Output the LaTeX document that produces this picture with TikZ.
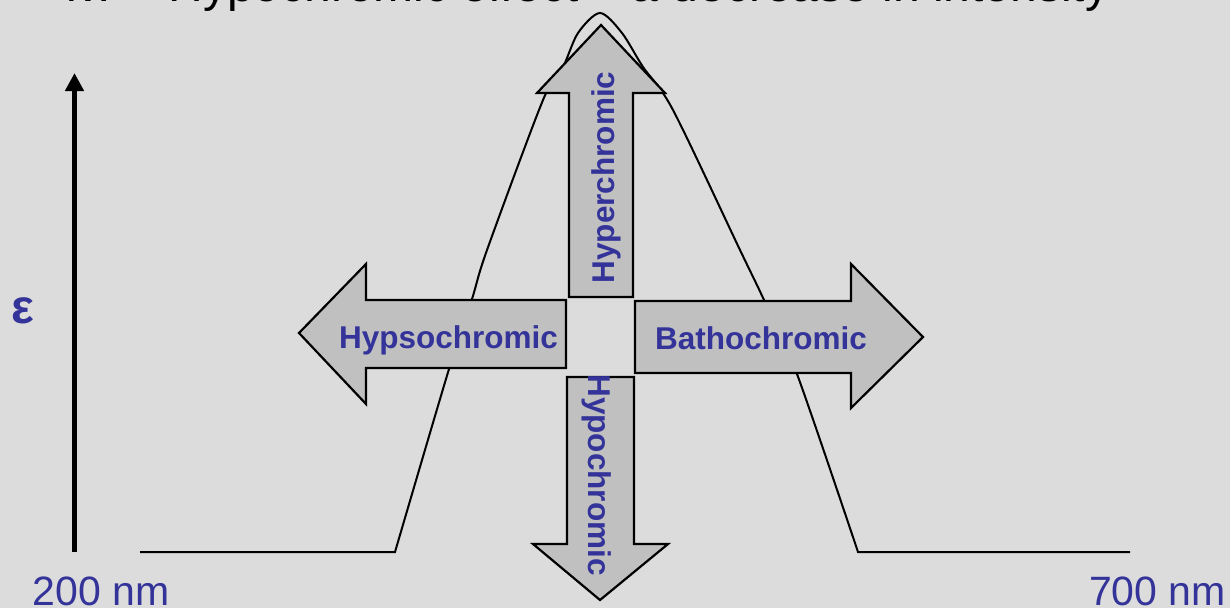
\documentclass[tikz,border=0pt]{standalone}
\usepackage{fontspec}
\setmainfont{Liberation Sans}
\usetikzlibrary{arrows.meta}
\definecolor{bg}{HTML}{DCDCDC}
\definecolor{arrowfill}{HTML}{C0C0C0}
\definecolor{labelblue}{HTML}{333399}
\begin{document}
\begin{tikzpicture}[x=1pt,y=-1pt,
  arrowbox/.style={draw=black, line width=2.2pt, fill=arrowfill, line join=miter},
  curveline/.style={draw=black, line width=2pt},
  lbl/.style={text=labelblue, font=\fontsize{31.5}{36}\selectfont\bfseries, inner sep=0},
  axislbl/.style={text=labelblue, font=\fontsize{41}{48}\selectfont, inner sep=0}]
\useasboundingbox (0,0) rectangle (1230,608);
\fill[bg] (0,0) rectangle (1230,608);
\clip (0,0) rectangle (1230,608);

% title (cut off at the top)
\node[anchor=base west, inner sep=0, font=\fontsize{48}{58}\selectfont] (title) at (66,1) {iv. – Hypochromic effect – a decrease in intensity};

% axis
\coordinate (axisbot) at (74.5,552);
\coordinate (axistop) at (74.5,73);
\draw[line width=5.3pt, -{Triangle[width=18pt,length=18pt]}] (axisbot) -- (axistop);
\node[text=labelblue, inner sep=0, font=\fontsize{48}{56}\selectfont\bfseries] (eps) at (23,311) {ε};

% absorption band
\draw[curveline] (140,552) -- (395,552) -- plot[smooth, tension=0.5] coordinates {(395,552) (449,369) (472,299) (487,250) (543,100) (563,67) (578,33) (600,13) (622,33) (643,67) (673,110) (740,250) (764,300) (797,374) (858,552)} -- (1130,552);

% arrows
\draw[arrowbox] (569,297) -- (569,93) -- (537,93) -- (601,25) -- (665,93) -- (633,93) -- (633,297) -- cycle;
\draw[arrowbox] (567,377) -- (634,377) -- (634,544) -- (668,544) -- (600,600) -- (533,544) -- (567,544) -- cycle;
\draw[arrowbox] (566,300) -- (366,300) -- (366,264) -- (299,333) -- (366,404) -- (366,368) -- (566,368) -- cycle;
\draw[arrowbox] (635,301) -- (851,301) -- (851,264) -- (923,337) -- (851,408) -- (851,373) -- (635,373) -- cycle;

% labels
\node[lbl, anchor=base, rotate=90] (hyper) at (614,177.5) {Hyperchromic};
\node[lbl, anchor=base, rotate=-90] (hypo) at (588,475) {Hypochromic};
\node[lbl, anchor=base] (hypso) at (448.5,348) {Hypsochromic};
\node[lbl, anchor=base] (batho) at (761,349) {Bathochromic};
\node[axislbl, anchor=base] (x200) at (101,605) {200 nm};
\node[axislbl, anchor=base] (x700) at (1157.5,605) {700 nm};
\end{tikzpicture}
\end{document}
